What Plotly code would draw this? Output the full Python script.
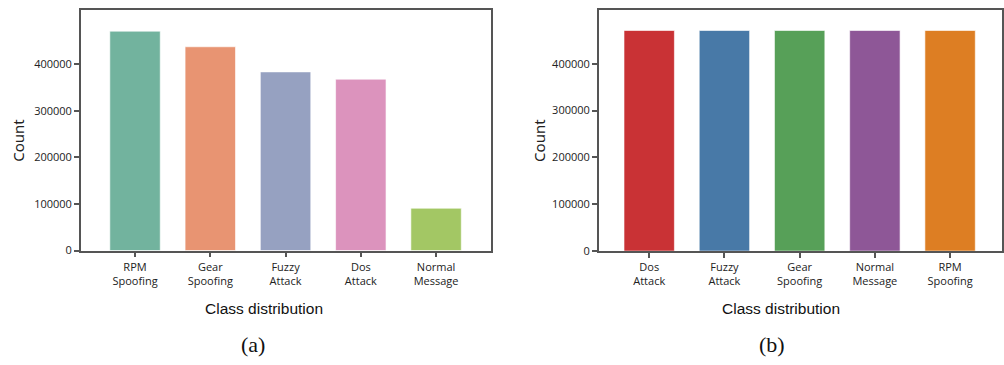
import plotly.graph_objects as go

# Panel (a): original class distribution
cats_a = ["RPM<br>Spoofing", "Gear<br>Spoofing", "Fuzzy<br>Attack", "Dos<br>Attack", "Normal<br>Message"]
vals_a = [471000, 437500, 383600, 368000, 91000]
colors_a = ["#72b39e", "#e89472", "#96a1c1", "#dc93bd", "#a3c764"]

# Panel (b): balanced class distribution
cats_b = ["Dos<br>Attack", "Fuzzy<br>Attack", "Gear<br>Spoofing", "Normal<br>Message", "RPM<br>Spoofing"]
vals_b = [471000, 471000, 471000, 471000, 471000]
colors_b = ["#c93235", "#4879a7", "#57a058", "#8e5797", "#dd7e23"]

yticks = [0, 100000, 200000, 300000, 400000]

W, H = 1004, 365
def px(x):
    return x / W
def py(y):
    return 1 - y / H

fig = go.Figure()
fig.add_trace(go.Bar(x=cats_a, y=vals_a, marker=dict(color=colors_a, line=dict(color="rgba(255,255,255,0.6)", width=1)),
                     xaxis="x", yaxis="y", showlegend=False))
fig.add_trace(go.Bar(x=cats_b, y=vals_b, marker=dict(color=colors_b, line=dict(color="rgba(255,255,255,0.6)", width=1)),
                     xaxis="x2", yaxis="y2", showlegend=False))

axis_common = dict(showline=True, linecolor="#555555", linewidth=1.5, mirror=True,
                   ticks="outside", ticklen=5, tickcolor="#555555", tickwidth=1.5,
                   showgrid=False, zeroline=False,
                   tickfont=dict(family="Open Sans", size=11, color="#222222"))

fig.update_layout(
    width=W, height=H, autosize=False,
    margin=dict(l=0, r=0, t=0, b=0),
    paper_bgcolor="white", plot_bgcolor="white",
    bargap=0.33,
    xaxis=dict(domain=[px(81), px(492)], range=[-0.72, 4.73], anchor="y", **axis_common),
    yaxis=dict(domain=[py(255.5), py(10.5)], range=[0, 515800], anchor="x",
               tickvals=yticks, ticktext=[str(v) for v in yticks], **axis_common),
    xaxis2=dict(domain=[px(600), 1.0], range=[-0.67, 4.69], anchor="y2", **axis_common),
    yaxis2=dict(domain=[py(256), py(10)], range=[0, 515200], anchor="x2",
                tickvals=yticks, ticktext=[str(v) for v in yticks], **axis_common),
)

ann = []
def add_text(text, x, y, size, family, angle=0, color="#222222"):
    ann.append(dict(text=text, x=px(x), y=py(y), xref="paper", yref="paper",
                    showarrow=False, xanchor="center", yanchor="middle",
                    textangle=angle, font=dict(size=size, family=family, color=color)))

add_text("Count", 18.5, 143, 15, "Noto Sans", angle=-90)
add_text("Count", 540.7, 143, 15, "Noto Sans", angle=-90)
add_text("Class distribution", 264.5, 315, 15.5, "Liberation Sans", color="#111111")
add_text("Class distribution", 782.8, 315, 15.5, "Liberation Sans", color="#111111")
add_text("(a)", 254, 351, 22, "Liberation Serif", color="#111111")
add_text("(b)", 773.3, 351, 22, "Liberation Serif", color="#111111")
fig.update_layout(annotations=ann)

post = (
    "var d=document.documentElement,b=document.body;"
    "d.style.margin='0';d.style.padding='0';d.style.overflow='hidden';d.style.height='365px';"
    "b.style.margin='0';b.style.padding='0';b.style.overflow='hidden';b.style.height='365px';"
    "var g=document.getElementsByClassName('plotly-graph-div')[0];"
    "if(g&&g.parentNode){g.parentNode.style.height='365px';g.parentNode.style.overflow='hidden';g.style.display='block';}"
)
fig.write_html("out.html", config={"displayModeBar": False}, post_script=post)
